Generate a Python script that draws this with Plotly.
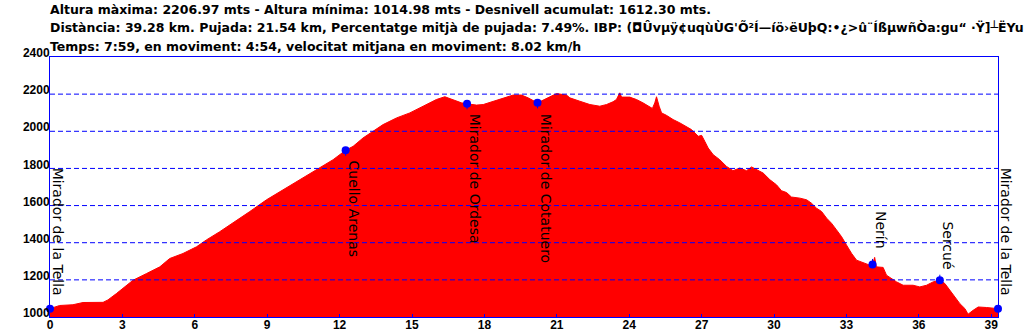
import plotly.graph_objects as go

# ---------------- data ----------------
km = [0.00, 0.40, 0.95, 1.37, 2.20, 2.40, 2.75, 3.44, 4.00, 4.55, 4.96, 5.51, 6.07, 6.48,
      7.03, 7.58, 8.28, 8.97, 9.66, 10.35, 11.04, 11.73, 12.25, 12.56, 12.97, 13.39, 13.80,
      14.36, 14.91, 15.46, 16.01, 16.36, 16.70, 17.05, 17.28, 17.67, 17.95, 18.36, 18.77,
      19.19, 19.54, 19.81, 20.20, 20.57, 20.99, 21.40, 21.54, 21.95, 22.37, 22.78, 23.06,
      23.33, 23.47, 23.61, 23.68, 24.02, 24.30, 24.57, 24.85, 24.96, 25.06, 25.13, 25.24,
      25.34, 25.54, 25.82, 26.10, 26.37, 26.58, 26.86, 27.00, 27.13, 27.27, 27.48, 27.75,
      28.03, 28.30, 28.58, 28.86, 29.07, 29.27, 29.55, 29.83, 30.10, 30.31, 30.52, 30.72,
      31.07, 31.35, 31.55, 31.76, 31.97, 32.18, 32.38, 32.59, 32.80, 33.00, 33.21, 33.42,
      33.69, 33.97, 34.08, 34.17, 34.24, 34.52, 34.66, 34.87, 35.08, 35.35, 35.76, 36.04,
      36.32, 36.59, 36.87, 37.08, 37.28, 37.49, 37.70, 37.91, 38.04, 38.25, 38.46, 38.81,
      39.28]
elev = [1045, 1062, 1066, 1078, 1079, 1092, 1126, 1198, 1234, 1270, 1315, 1342, 1378, 1415,
        1459, 1505, 1568, 1631, 1685, 1739, 1793, 1847, 1898, 1919, 1964, 2000, 2036,
        2072, 2099, 2135, 2171, 2186, 2171, 2153, 2148, 2141, 2144, 2162, 2180,
        2195, 2195, 2180, 2153, 2177, 2203, 2195, 2180, 2162, 2144, 2135, 2144,
        2159, 2171, 2207, 2184, 2184, 2171, 2153, 2130, 2123, 2153, 2186, 2135,
        2099, 2086, 2063, 2045, 2027, 2009, 1973, 1978, 1946, 1910, 1874, 1847,
        1811, 1788, 1802, 1788, 1808, 1793, 1775, 1739, 1712, 1680, 1670, 1646,
        1640, 1631, 1613, 1586, 1568, 1532, 1505, 1469, 1432, 1388, 1343, 1306,
        1292, 1279, 1283, 1321, 1270, 1267, 1225, 1207, 1189, 1171, 1171, 1162,
        1171, 1189, 1198, 1180, 1144, 1108, 1072, 1045, 1015, 1036, 1054, 1051,
        1045]

wp_names = ["Mirador de la Tella", "Cuello Arenas", "Mirador de Ordesa",
            "Mirador de Cotatuero", "Nerín", "Sercué", "Mirador de la Tella"]
wp_km = [0.0, 12.25, 17.28, 20.20, 34.08, 36.87, 39.28]
wp_elev = [1045, 1898, 2148, 2153, 1283, 1198, 1045]

x_ticks = [0, 3, 6, 9, 12, 15, 18, 21, 24, 27, 30, 33, 36, 39]
y_ticks = [1000, 1200, 1400, 1600, 1800, 2000, 2200, 2400]
x_max = 39.28

title_lines = [
    "Altura màxima: 2206.97 mts - Altura mínima: 1014.98 mts - Desnivell acumulat: 1612.30 mts.",
    "Distància: 39.28 km. Pujada: 21.54 km, Percentatge mitjà de pujada: 7.49%. IBP: "
    "(◘Ûvµÿ¢uqùÙG'Õ²Í—íö›ëUþQ:•¿>û¨ÍßµwñÒa:gu“ ·Ÿ]┴ËYu",
    "Temps: 7:59, en moviment: 4:54, velocitat mitjana en moviment: 8.02 km/h",
]

# ---------------- style ----------------
W, H = 1026, 333
ML, MR, MT, MB = 50, 28, 57, 16
PLOT_H = H - MT - MB
BLUE = "#0000FF"
RED = "#FF0000"
# label placement per waypoint: (side, gap px)
wp_place = [("above", 11), ("below", 8), ("below", 8), ("below", 9),
            ("above", 14), ("above", 9), ("above", 11)]
title_y_px = [9, 28, 47]


def paper_y(px):
    return (H - MB - px) / PLOT_H


fig = go.Figure()
fig.add_trace(go.Scatter(
    x=km, y=elev, mode="lines", fill="tozeroy",
    fillcolor=RED, line=dict(color=RED, width=1),
    hoverinfo="skip", showlegend=False))
fig.add_trace(go.Scatter(
    x=wp_km, y=wp_elev, mode="markers",
    marker=dict(color=BLUE, size=8, line=dict(width=0)),
    cliponaxis=False, showlegend=False))

annotations = []
for line, ypx in zip(title_lines, title_y_px):
    annotations.append(dict(
        text=line, xref="paper", yref="paper", x=0, y=paper_y(ypx),
        xanchor="left", yanchor="middle", showarrow=False, xshift=-2,
        font=dict(family="DejaVu Sans", size=12.5, color="black", weight="bold")))

for name, xk, ye, (side, gap) in zip(wp_names, wp_km, wp_elev, wp_place):
    annotations.append(dict(
        text=name, x=xk, y=ye, xref="x", yref="y", textangle=90,
        xanchor="left", yanchor="top" if side == "below" else "bottom",
        yshift=-gap if side == "below" else gap, xshift=-2,
        showarrow=False,
        font=dict(family="DejaVu Sans", size=14, color="black")))
    if 0 < xk < x_max:
        annotations.append(dict(
            text="", x=xk, y=ye, xref="x", yref="y", showarrow=True,
            ax=0, ay=7 if side == "below" else -7, arrowhead=0,
            arrowwidth=1, arrowcolor=BLUE, standoff=0))

shapes = [dict(type="line", xref="paper", yref="y", x0=0, x1=1, y0=v, y1=v,
               line=dict(color=BLUE, width=1, dash="5px,3px"), layer="above")
          for v in y_ticks[1:-1]]

fig.update_layout(
    width=W, height=H,
    margin=dict(l=ML, r=MR, t=MT, b=MB, autoexpand=False),
    paper_bgcolor="white", plot_bgcolor="white",
    annotations=annotations, shapes=shapes,
    xaxis=dict(range=[0, x_max], tickvals=x_ticks, ticktext=[str(t) for t in x_ticks],
               showgrid=False, zeroline=False, showline=True, mirror=True,
               linecolor=BLUE, linewidth=1, ticks="inside", ticklen=3, tickcolor=BLUE,
               ticklabelstandoff=-3,
               layer="above traces", automargin=False,
               tickfont=dict(family="Liberation Sans", size=12, color="black", weight="bold")),
    yaxis=dict(range=[1000, 2400], tickvals=y_ticks, ticktext=[str(t) for t in y_ticks],
               showgrid=False, zeroline=False, showline=True, mirror=True,
               linecolor=BLUE, linewidth=1, ticks="", ticklabelstandoff=-3,
               ticklabelshift=-4,
               layer="above traces", automargin=False,
               tickfont=dict(family="Liberation Sans", size=12, color="black", weight="bold")),
)

fig.write_html("out.html")
